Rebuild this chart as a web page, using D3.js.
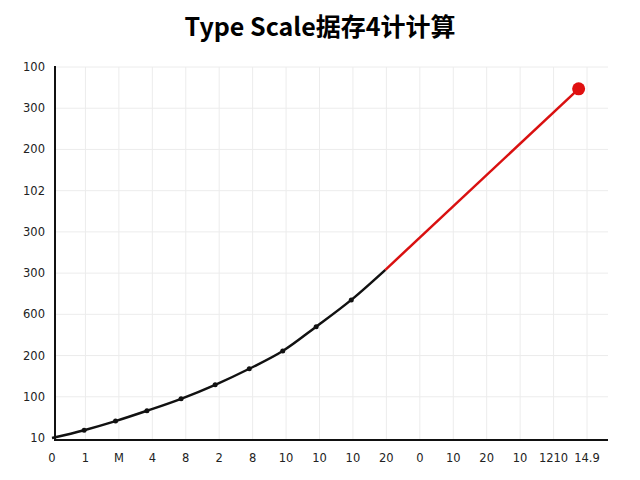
<!DOCTYPE html><html><head><meta charset="utf-8"><script src="https://cdn.jsdelivr.net/npm/d3@7"></script>
<style>body{margin:0;background:#fff}</style></head><body><svg id="c" width="640" height="480"></svg><script>
const xTickLabels=["0","1","M","4","8","2","8","10","10","10","20","0","10","20","10","1210","14.9"];
const yTickLabels=["10","100","200","600","300","300","102","200","300","100"];
const blackX=[0,0.96,1.9,2.84,3.86,4.88,5.9,6.9,7.9,8.95,9.97];
const blackY=[0,0.19,0.41,0.66,0.95,1.29,1.68,2.11,2.7,3.35,4.08];
const redX=[9.97,15.75];
const redY=[4.08,8.47];
const svg=d3.select("#c");
const x=d3.scaleLinear().domain([0,16]).range([52,587]);
const y=d3.scaleLinear().domain([0,9]).range([438,67]);
const ff="'DejaVu Sans',sans-serif";
svg.append("text").attr("x",320).attr("y",36).attr("text-anchor","middle").attr("font-family","'Noto Sans CJK SC',sans-serif").attr("font-weight","bold").attr("font-size",25).text("Type Scale据存4计计算");
const g=svg.append("g");
d3.range(1,17).forEach(i=>g.append("line").attr("x1",x(i)).attr("x2",x(i)).attr("y1",67).attr("y2",439).attr("stroke","#ececec"));
d3.range(1,10).forEach(i=>g.append("line").attr("x1",55).attr("x2",608).attr("y1",y(i)).attr("y2",y(i)).attr("stroke","#ececec"));
xTickLabels.forEach((t,i)=>svg.append("text").attr("x",x(i)).attr("y",462).attr("text-anchor","middle").attr("font-family",ff).attr("font-size",11.5).attr("fill","#222").text(t));
yTickLabels.forEach((t,i)=>svg.append("text").attr("x",45).attr("y",y(i)+4).attr("text-anchor","end").attr("font-family",ff).attr("font-size",11.5).attr("fill","#222").text(t));
svg.append("line").attr("x1",55).attr("x2",55).attr("y1",66).attr("y2",440).attr("stroke","#111").attr("stroke-width",2);
svg.append("line").attr("x1",54).attr("x2",608).attr("y1",440).attr("y2",440).attr("stroke","#111").attr("stroke-width",2);
const bd=blackX.map((v,i)=>[v,blackY[i]]);
const line=d3.line().x(d=>x(d[0])).y(d=>y(d[1])).curve(d3.curveMonotoneX);
svg.append("path").attr("d",line(bd)).attr("fill","none").attr("stroke","#111").attr("stroke-width",2.5);
svg.selectAll(".p").data(bd.slice(1,-1)).join("circle").attr("cx",d=>x(d[0])).attr("cy",d=>y(d[1])).attr("r",2.5).attr("fill","#111");
const rd=redX.map((v,i)=>[v,redY[i]]);
svg.append("path").attr("d",line(rd)).attr("fill","none").attr("stroke","#d91010").attr("stroke-width",2.5);
svg.append("circle").attr("cx",x(redX[1])).attr("cy",y(redY[1])).attr("r",6.5).attr("fill","#e01010");
</script></body></html>
